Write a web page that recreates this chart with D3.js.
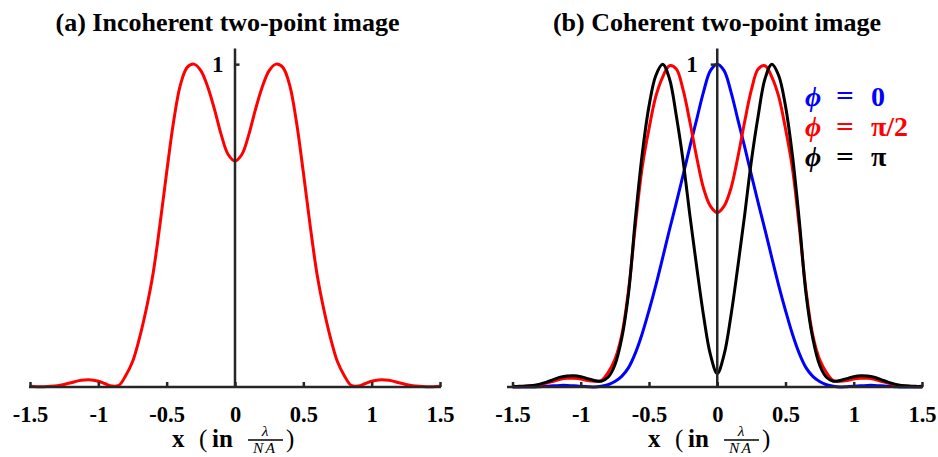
<!DOCTYPE html>
<html>
<head>
<meta charset="utf-8">
<script src="https://cdn.jsdelivr.net/npm/d3@7"></script>
<style>
  html, body { margin: 0; padding: 0; background: #fff; }
  svg { display: block; }
</style>
</head>
<body>
<svg id="chart" width="938" height="457"></svg>
<script>
// ---------------- data ----------------
const xTicks = [-1.5, -1, -0.5, 0, 0.5, 1, 1.5];
const yTicks = [1];
const panelTitles = ["(a) Incoherent two-point image", "(b) Coherent two-point image"];
const legendValues = ["0", "π/2", "π"];

// sample positions, in units of λ/NA
const xs = [-1.5,-1.45,-1.4,-1.35,-1.3,-1.25,-1.2,-1.15,-1.1,-1.05,-1,-0.95,-0.9,-0.85,-0.8,-0.75,-0.7,-0.65,-0.6,-0.55,-0.5,-0.45,-0.4,-0.35,-0.3,-0.25,-0.2,-0.15,-0.1,-0.05,0,
  0.05,0.1,0.15,0.2,0.25,0.3,0.35,0.4,0.45,0.5,0.55,0.6,0.65,0.7,0.75,0.8,0.85,0.9,0.95,1,1.05,1.1,1.15,1.2,1.25,1.3,1.35,1.4,1.45,1.5];

// (a) incoherent image intensity
const incoherent = [0.002,0.001,0.001,0.002,0.004,0.008,0.013,0.019,0.022,0.022,0.018,0.010,0.003,0.005,0.035,0.078,0.15,0.24,0.35,0.50,0.665,0.82,0.935,0.99,1.00,0.98,0.93,0.86,0.78,0.72,0.70,
  0.72,0.78,0.86,0.93,0.98,1.00,0.99,0.935,0.82,0.665,0.50,0.35,0.24,0.15,0.078,0.035,0.005,0.003,0.010,0.018,0.022,0.022,0.019,0.013,0.008,0.004,0.002,0.001,0.001,0.002];

// (b) coherent image intensity, phase difference 0
const phi0 = [0.000,0.000,0.000,0.000,0.001,0.002,0.004,0.005,0.005,0.004,0.002,0.001,0.000,0.002,0.007,0.017,0.033,0.06,0.105,0.165,0.237,0.315,0.40,0.487,0.57,0.657,0.745,0.83,0.915,0.98,1.00,
  0.98,0.915,0.83,0.745,0.657,0.57,0.487,0.40,0.315,0.237,0.165,0.105,0.06,0.033,0.017,0.007,0.002,0.000,0.001,0.002,0.004,0.005,0.005,0.004,0.002,0.001,0.000,0.000,0.000,0.000];

// (b) coherent, phase difference π/2
const phiHalfPi = [0.001,0.001,0.002,0.004,0.007,0.012,0.018,0.024,0.027,0.027,0.025,0.020,0.018,0.020,0.045,0.085,0.16,0.30,0.50,0.68,0.80,0.90,0.96,0.995,0.985,0.92,0.82,0.71,0.615,0.56,0.54,
  0.56,0.615,0.71,0.82,0.92,0.985,0.995,0.96,0.90,0.80,0.68,0.50,0.30,0.16,0.085,0.045,0.020,0.018,0.020,0.025,0.027,0.027,0.024,0.018,0.012,0.007,0.004,0.002,0.001,0.001];

// (b) coherent, phase difference π
const phiPi = [0.002,0.002,0.003,0.005,0.009,0.015,0.023,0.030,0.034,0.035,0.032,0.026,0.020,0.018,0.030,0.068,0.15,0.29,0.52,0.72,0.87,0.965,1.00,0.955,0.84,0.70,0.53,0.37,0.22,0.10,0.042,
  0.10,0.22,0.37,0.53,0.70,0.84,0.955,1.00,0.965,0.87,0.72,0.52,0.29,0.15,0.068,0.030,0.018,0.020,0.026,0.032,0.035,0.034,0.030,0.023,0.015,0.009,0.005,0.003,0.002,0.002];

// ---------------- drawing ----------------
const svg = d3.select("#chart");
const AXIS = "#262626";
const SERIF = "'Liberation Serif', 'Times New Roman', serif";

const y = d3.scaleLinear().domain([0, 1.05]).range([387, 48]);

const panels = [
  { x: d3.scaleLinear().domain([-1.5, 1.5]).range([30, 440]), lineExt: [29, 441],
    title: panelTitles[0], titleX: 227.5, labelX: 234,
    series: [{ v: incoherent, c: "#ff0000" }], tickSide: "right" },
  { x: d3.scaleLinear().domain([-1.5, 1.5]).range([512.5, 922]), lineExt: [507, 923],
    title: panelTitles[1], titleX: 717, labelX: 710,
    series: [{ v: phi0, c: "#0000ff" }, { v: phiHalfPi, c: "#ff0000" }, { v: phiPi, c: "#000000" }],
    tickSide: "left" }
];

panels.forEach(p => {
  const g = svg.append("g");
  const x = p.x;

  // curves
  const line = d3.line().x((d, i) => x(xs[i])).y(d => y(d)).curve(d3.curveCatmullRom.alpha(0.5));
  p.series.forEach(s => {
    g.append("path").datum(s.v)
      .attr("d", line)
      .attr("fill", "none")
      .attr("stroke", s.c)
      .attr("stroke-width", 3)
      .attr("stroke-linejoin", "round");
  });

  // horizontal axis
  const xAxis = d3.axisBottom(x).tickValues(xTicks)
    .tickFormat(d => String(d))
    .tickSizeInner(-5).tickSizeOuter(0).tickPadding(19);
  const gx = g.append("g").attr("transform", `translate(0,${y(0)})`).call(xAxis);
  gx.select(".domain").remove();
  gx.selectAll(".tick line").attr("stroke", AXIS).attr("stroke-width", 2.5);
  gx.selectAll(".tick text")
    .attr("fill", "#000").attr("font-family", SERIF).attr("font-weight", "bold")
    .attr("font-size", 22.5);
  g.append("line").attr("x1", p.lineExt[0]).attr("x2", p.lineExt[1])
    .attr("y1", y(0)).attr("y2", y(0)).attr("stroke", AXIS).attr("stroke-width", 2.5);

  // vertical axis at x = 0
  const yAxis = d3.axisLeft(y).tickValues(yTicks).tickFormat(d => String(d))
    .tickSizeOuter(0)
    .tickSizeInner(p.tickSide === "right" ? -5 : 6)
    .tickPadding(p.tickSide === "right" ? 11 : 13);
  const gy = g.append("g").attr("transform", `translate(${x(0) - 0.5},0)`).call(yAxis);
  gy.select(".domain").attr("stroke", AXIS).attr("stroke-width", 2.5);
  gy.selectAll(".tick line").attr("stroke", AXIS).attr("stroke-width", 2.5);
  gy.selectAll(".tick text")
    .attr("fill", "#000").attr("font-family", SERIF).attr("font-weight", "bold")
    .attr("font-size", 23);

  // title
  g.append("text").attr("x", p.titleX).attr("y", 31)
    .attr("text-anchor", "middle").attr("font-family", SERIF).attr("font-weight", "bold")
    .attr("font-size", 26).attr("fill", "#000").text(p.title);

  // x label: x (in λ / NA)
  const lab = g.append("g").attr("transform", `translate(${p.labelX},0)`)
    .attr("font-family", SERIF).attr("fill", "#000");
  lab.append("text").attr("x", -62).attr("y", 447).attr("font-size", 25).attr("font-weight", "bold").text("x");
  lab.append("text").attr("x", -35).attr("y", 447).attr("font-size", 25).text("(");
  lab.append("text").attr("x", -22).attr("y", 447).attr("font-size", 25).attr("font-weight", "bold").text("in");
  lab.append("text").attr("x", 31).attr("y", 436).attr("text-anchor", "middle")
    .attr("font-style", "italic").attr("font-size", 15.5).text("λ");
  lab.append("line").attr("x1", 14).attr("x2", 49).attr("y1", 440).attr("y2", 440)
    .attr("stroke", "#000").attr("stroke-width", 1.3);
  lab.append("text").attr("x", 31).attr("y", 453).attr("text-anchor", "middle")
    .attr("font-style", "italic").attr("font-size", 15.5).attr("letter-spacing", 2).text("NA");
  lab.append("text").attr("x", 52).attr("y", 447).attr("font-size", 25).text(")");
});

// legend for panel (b)
const legendColors = ["#0000ff", "#ff0000", "#000000"];
const legendY = [105.5, 136, 166];
legendValues.forEach((val, i) => {
  const g = svg.append("g").attr("fill", legendColors[i]).attr("font-family", SERIF)
    .attr("font-size", 28).attr("font-weight", "bold");
  g.append("text").attr("x", 805).attr("y", legendY[i]).attr("font-style", "italic").text("ϕ");
  g.append("text").attr("x", 836).attr("y", legendY[i]).text("=")
    .attr("transform", `translate(${836 * -0.12},0) scale(1.12,1)`);
  g.append("text").attr("x", 871).attr("y", legendY[i]).text(val);
});
</script>
</body>
</html>
